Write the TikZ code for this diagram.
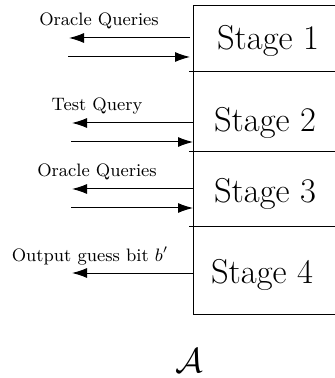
\documentclass[tikz,border=0pt]{standalone}
\usetikzlibrary{arrows.meta}
\begin{document}
\begin{tikzpicture}[x=0.5pt,y=-0.5pt,
  boxline/.style={line width=0.5pt},
  arr/.style={line width=0.5pt,-{Latex[length=7.5pt,width=5pt]}},
  stagetext/.style={anchor=base,inner sep=0pt,font=\LARGE},
  labtext/.style={anchor=base,inner sep=0pt,font=\small}]
\useasboundingbox (0,0) rectangle (335,378);
% box outline (right side runs past the picture)
\draw[boxline] (335,6) -- (193,6) -- (193,314) -- (335,314);
\draw[boxline] (189,72) -- (335,72);
\draw[boxline] (189,152) -- (335,152);
\draw[boxline] (189,227) -- (335,227);
% stage labels
\node[stagetext] (s1) at (268,50) {Stage 1};
\node[stagetext] (s2) at (265,132) {Stage 2};
\node[stagetext] (s3) at (265,203) {Stage 3};
\node[stagetext] (s4) at (262,283) {Stage 4};
% arrow end points
\coordinate (a1o) at (190,38);  \coordinate (a1l) at (69,38);
\coordinate (a1i) at (190,57);  \coordinate (a1m) at (68,57);
\coordinate (a2o) at (193,123); \coordinate (a2l) at (72,123);
\coordinate (a2i) at (193,142); \coordinate (a2m) at (71,142);
\coordinate (a3o) at (193,189); \coordinate (a3l) at (72,189);
\coordinate (a3i) at (193,208); \coordinate (a3m) at (71,208);
\coordinate (a4o) at (193,273); \coordinate (a4l) at (72,273);
\draw[arr] (a1o) -- (a1l);
\draw[arr] (a1m) -- (a1i);
\draw[arr] (a2o) -- (a2l);
\draw[arr] (a2m) -- (a2i);
\draw[arr] (a3o) -- (a3l);
\draw[arr] (a3m) -- (a3i);
\draw[arr] (a4o) -- (a4l);
% arrow labels
\node[labtext] (l1) at (99,26) {Oracle Queries};
\node[labtext] (l2) at (97,111) {Test Query};
\node[labtext] (l3) at (97,177) {Oracle Queries};
\node[labtext] (l4) at (90,261) {Output guess bit $b'$};
% adversary
\node[anchor=base,inner sep=0pt,font=\LARGE] (adv) at (189,372) {$\mathcal{A}$};
\end{tikzpicture}
\end{document}
